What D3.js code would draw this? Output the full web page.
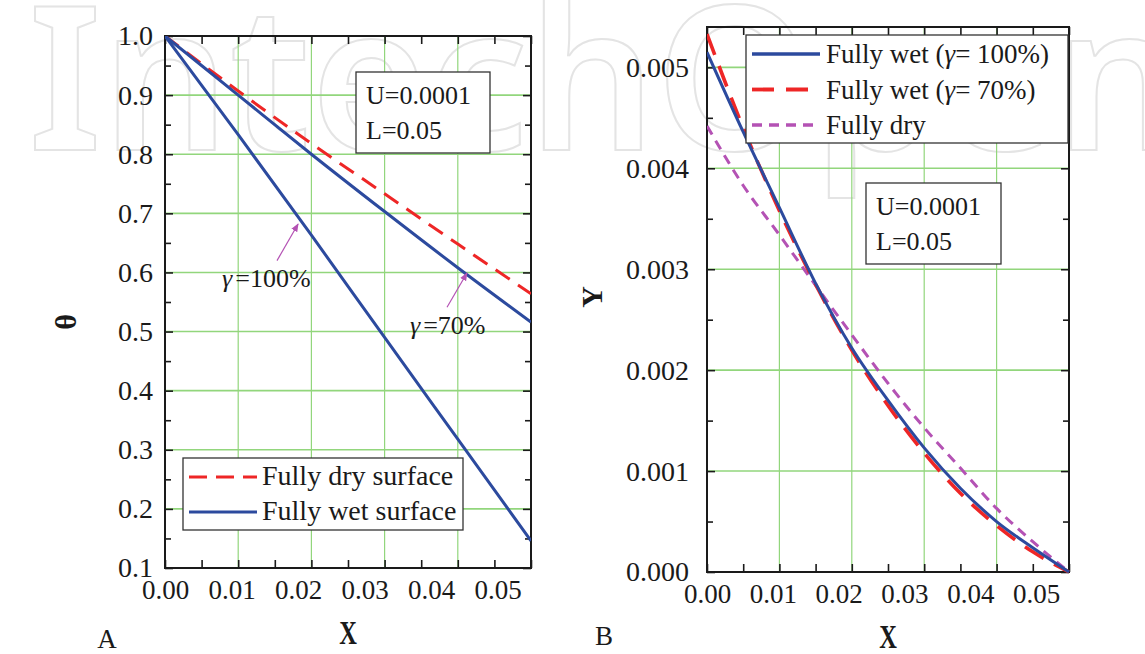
<!DOCTYPE html>
<html>
<head>
<meta charset="utf-8">
<script src="https://cdn.jsdelivr.net/npm/d3@7"></script>
<style>
  body { margin: 0; background: #fff; }
</style>
</head>
<body>
<svg id="chart" width="1145" height="654"></svg>
<script>
// ---- panel A: temperature theta along the fin ----
const xA = [0, 0.011, 0.022, 0.033, 0.044, 0.055];
const thetaDry = [1.0, 0.907, 0.818, 0.733, 0.648, 0.564];
const thetaWet70 = [1.0, 0.900, 0.800, 0.703, 0.608, 0.516];
const thetaWet100 = [1.0, 0.833, 0.663, 0.490, 0.318, 0.146];

// ---- panel B: profile Y along the fin ----
const xB = [0, 0.0055, 0.011, 0.0165, 0.022, 0.0275, 0.033, 0.0385, 0.044, 0.0495, 0.055];
const yWet100 = [0.00515, 0.00436, 0.00361, 0.00286, 0.00222, 0.00170, 0.00123, 0.00083, 0.00050, 0.00024, 0];
const yWet70 = [0.00533, 0.00440, 0.00358, 0.00285, 0.00220, 0.00165, 0.00118, 0.00078, 0.00046, 0.00020, 0];
const yDry = [0.00442, 0.00383, 0.00334, 0.00284, 0.00235, 0.00187, 0.00143, 0.00103, 0.00063, 0.00030, 0];

const xTickLabels = [0, 0.01, 0.02, 0.03, 0.04, 0.05];
const thetaTicks = [0.1, 0.2, 0.3, 0.4, 0.5, 0.6, 0.7, 0.8, 0.9, 1.0];
const yTicks = [0, 0.001, 0.002, 0.003, 0.004, 0.005];

const BLUE = "#2c4a9e", RED = "#ee2626", MAGENTA = "#b452b4", GRID = "#92d67c";
const SERIF = "Liberation Serif";

const svg = d3.select("#chart");

// faint watermark
svg.append("text")
  .attr("class", "wm")
  .attr("x", 28).attr("y", 150)
  .attr("font-size", 200)
  .attr("font-family", "Noto Sans")
  .attr("font-weight", 600)
  .attr("fill", "none")
  .attr("stroke", "#e4e4e4")
  .attr("stroke-width", 2)
  .text("IntechOpen");

function frameAxes(g, x, y, opt) {
  const [x0, x1] = x.range(), [y0, y1] = y.range();
  const xGrid = d3.range(1, 5).map(i => i * 0.011);
  const xMinor = d3.range(0, 11).map(i => i * 0.0055);

  // grid
  g.append("g").selectAll("line").data(opt.yGrid).join("line")
    .attr("x1", x0).attr("x2", x1)
    .attr("y1", d => y(d)).attr("y2", d => y(d))
    .attr("stroke", GRID).attr("stroke-width", 1.6);
  g.append("g").selectAll("line").data(xGrid).join("line")
    .attr("x1", d => x(d)).attr("x2", d => x(d))
    .attr("y1", y0).attr("y2", y1)
    .attr("stroke", GRID).attr("stroke-width", 1.2);

  const clean = sel => {
    sel.select(".domain").remove();
    sel.selectAll(".tick line").attr("stroke", "#1a1a1a").attr("stroke-width", 1.6);
  };
  const marksOnly = sel => { clean(sel); sel.selectAll("text").remove(); };

  // left labels + ticks
  g.append("g").attr("transform", `translate(${x0},0)`)
    .call(d3.axisLeft(y).tickValues(opt.yLabels).tickFormat(opt.yFormat).tickSize(-8).tickPadding(opt.yPad))
    .call(clean)
    .selectAll("text").attr("font-size", 28);
  g.append("g").attr("transform", `translate(${x0},0)`)
    .call(d3.axisLeft(y).tickValues(opt.yMinor).tickSize(-6)).call(marksOnly);
  g.append("g").attr("transform", `translate(${x1},0)`)
    .call(d3.axisRight(y).tickValues(opt.yLabels).tickSize(-8)).call(marksOnly);
  g.append("g").attr("transform", `translate(${x1},0)`)
    .call(d3.axisRight(y).tickValues(opt.yMinor).tickSize(-6)).call(marksOnly);

  // bottom labels + ticks
  g.append("g").attr("transform", `translate(0,${y0})`)
    .call(d3.axisBottom(x).tickValues(xTickLabels).tickFormat(d3.format(".2f")).tickSize(0).tickPadding(12))
    .call(clean)
    .selectAll("text").attr("font-size", 27);
  g.append("g").attr("transform", `translate(0,${y0})`)
    .call(d3.axisBottom(x).tickValues(xMinor).tickSize(-8)).call(marksOnly);
  g.append("g").attr("transform", `translate(0,${y1})`)
    .call(d3.axisTop(x).tickValues(xMinor).tickSize(-8)).call(marksOnly);

  g.append("rect")
    .attr("x", x0).attr("y", y1).attr("width", x1 - x0).attr("height", y0 - y1)
    .attr("fill", "none").attr("stroke", "#1a1a1a").attr("stroke-width", 2);
}

function drawCurve(g, clipId, x, y, xs, ys, color, width, dash) {
  const line = d3.line().x((d, i) => x(xs[i])).y(d => y(d)).curve(d3.curveMonotoneX);
  g.append("path").datum(ys)
    .attr("clip-path", `url(#${clipId})`)
    .attr("d", line)
    .attr("fill", "none").attr("stroke", color).attr("stroke-width", width)
    .attr("stroke-dasharray", dash);
}

function box(g, x, y, w, h) {
  g.append("rect").attr("x", x).attr("y", y).attr("width", w).attr("height", h)
    .attr("fill", "#fff").attr("stroke", "#333").attr("stroke-width", 1.3);
}

function condensedLabel(g, x, y, txt, size) {
  g.append("text")
    .attr("transform", `translate(${x},${y}) scale(0.72,1)`)
    .attr("text-anchor", "middle").attr("font-size", size).attr("font-weight", "bold")
    .text(txt);
}

const defs = svg.append("defs");
defs.append("marker").attr("id", "arr").attr("viewBox", "0 0 10 10")
  .attr("refX", 9).attr("refY", 5).attr("markerWidth", 7).attr("markerHeight", 7)
  .attr("orient", "auto")
  .append("path").attr("d", "M0,1 L10,5 L0,9 Z").attr("fill", MAGENTA);

// ================= Panel A =================
const xa = d3.scaleLinear().domain([0, 0.055]).range([165, 531]);
const ya = d3.scaleLinear().domain([0.1, 1.0]).range([568, 36]);
const gA = svg.append("g");
defs.append("clipPath").attr("id", "clipA").append("rect")
  .attr("x", 165).attr("y", 36).attr("width", 366).attr("height", 532);

frameAxes(gA, xa, ya, {
  yGrid: thetaTicks.slice(1, -1),
  yLabels: thetaTicks,
  yMinor: d3.range(0, 9).map(i => 0.15 + i * 0.1),
  yFormat: d3.format(".1f"),
  yPad: 12
});

drawCurve(gA, "clipA", xa, ya, xA, thetaDry, RED, 3, "17,10");
drawCurve(gA, "clipA", xa, ya, xA, thetaWet70, BLUE, 3, null);
drawCurve(gA, "clipA", xa, ya, xA, thetaWet100, BLUE, 3, null);

// annotations A
gA.append("line")
  .attr("x1", xa(0.01683)).attr("y1", ya(0.620)).attr("x2", xa(0.0200)).attr("y2", ya(0.682))
  .attr("stroke", MAGENTA).attr("stroke-width", 1.2).attr("marker-end", "url(#arr)");
gA.append("line")
  .attr("x1", xa(0.04238)).attr("y1", ya(0.541)).attr("x2", xa(0.04538)).attr("y2", ya(0.599))
  .attr("stroke", MAGENTA).attr("stroke-width", 1.2).attr("marker-end", "url(#arr)");

const g100 = gA.append("text").attr("x", xa(0.00857)).attr("y", ya(0.5746)).attr("font-size", 26);
g100.append("tspan").attr("font-style", "italic").text("γ");
g100.append("tspan").attr("dx", 3).text("=100%");
const g70 = gA.append("text").attr("x", xa(0.0368)).attr("y", ya(0.4966)).attr("font-size", 26);
g70.append("tspan").attr("font-style", "italic").text("γ");
g70.append("tspan").attr("dx", 3).text("=70%");

box(gA, 356, 72, 134, 81);
gA.append("text").attr("x", 366).attr("y", 104).attr("font-size", 26).text("U=0.0001");
gA.append("text").attr("x", 366).attr("y", 139).attr("font-size", 26).text("L=0.05");

// legend A
const legA = [
  { label: "Fully dry surface", color: RED, dash: "18,9" },
  { label: "Fully wet surface", color: BLUE, dash: null }
];
box(gA, 183, 458, 280, 72);
legA.forEach((d, i) => {
  const yy = 477 + i * 35;
  gA.append("line").attr("x1", 189).attr("x2", 257).attr("y1", yy).attr("y2", yy)
    .attr("stroke", d.color).attr("stroke-width", 3).attr("stroke-dasharray", d.dash);
  gA.append("text").attr("x", 262).attr("y", yy + 8).attr("font-size", 28).text(d.label);
});

// titles A
gA.append("text").attr("transform", "translate(76,322) rotate(-90)")
  .attr("text-anchor", "middle").attr("font-size", 30).attr("font-weight", "bold").text("θ");
condensedLabel(gA, 348, 644, "X", 34);
gA.append("text").attr("x", 107).attr("y", 648).attr("text-anchor", "middle")
  .attr("font-size", 27).text("A");

// ================= Panel B =================
const xb = d3.scaleLinear().domain([0, 0.055]).range([707, 1069]);
const yb = d3.scaleLinear().domain([0, 0.0054]).range([572, 27]);
const gB = svg.append("g");
defs.append("clipPath").attr("id", "clipB").append("rect")
  .attr("x", 707).attr("y", 27).attr("width", 364).attr("height", 547);

frameAxes(gB, xb, yb, {
  yGrid: yTicks.slice(1),
  yLabels: yTicks,
  yMinor: d3.range(0, 5).map(i => 0.0005 + i * 0.001),
  yFormat: d3.format(".3f"),
  yPad: 18
});

drawCurve(gB, "clipB", xb, yb, xB, yDry, MAGENTA, 3, "10,7");
drawCurve(gB, "clipB", xb, yb, xB, yWet70, RED, 3.6, "22,12");
drawCurve(gB, "clipB", xb, yb, xB, yWet100, BLUE, 3, null);

// legend B
const legB = [
  { pre: "Fully wet (", gam: true, post: "= 100%)", color: BLUE, dash: null, w: 3.4 },
  { pre: "Fully wet (", gam: true, post: "= 70%)", color: RED, dash: "22,12", w: 3.8 },
  { pre: "Fully dry", gam: false, post: "", color: MAGENTA, dash: "10,7", w: 3.4 }
];
box(gB, 746, 35, 322, 108);
legB.forEach((d, i) => {
  const yy = 54 + i * 35.5;
  gB.append("line").attr("x1", 752).attr("x2", 820).attr("y1", yy).attr("y2", yy)
    .attr("stroke", d.color).attr("stroke-width", d.w).attr("stroke-dasharray", d.dash);
  const t = gB.append("text").attr("x", 826).attr("y", yy + 9).attr("font-size", 27);
  t.append("tspan").text(d.pre);
  if (d.gam) t.append("tspan").attr("font-style", "italic").text("γ");
  if (d.post) t.append("tspan").text(d.post);
});

box(gB, 866, 183, 135, 81);
gB.append("text").attr("x", 876).attr("y", 215).attr("font-size", 26).text("U=0.0001");
gB.append("text").attr("x", 876).attr("y", 250).attr("font-size", 26).text("L=0.05");

// titles B
gB.append("text").attr("transform", "translate(602,297) rotate(-90)")
  .attr("text-anchor", "middle").attr("font-size", 30).attr("font-weight", "bold").text("Y");
condensedLabel(gB, 888, 648, "X", 34);
gB.append("text").attr("x", 604).attr("y", 645).attr("text-anchor", "middle")
  .attr("font-size", 27).text("B");

// one serif face for every label except the watermark
svg.selectAll("text:not(.wm)").attr("font-family", SERIF).style("font-family", SERIF).attr("fill", "#1a1a1a");
</script>
</body>
</html>
